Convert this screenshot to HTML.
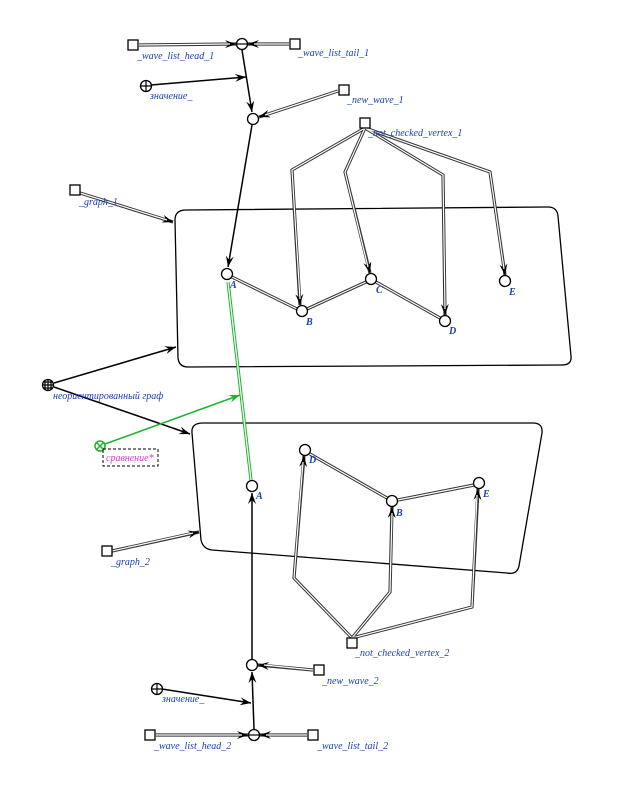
<!DOCTYPE html>
<html><head><meta charset="utf-8"><style>
html,body{margin:0;padding:0;background:#fff}
svg text{font-family:"Liberation Serif",serif;font-style:italic;font-size:10px;fill:#1a3fb0}
</style></head><body>
<svg width="619" height="784" viewBox="0 0 619 784" xmlns="http://www.w3.org/2000/svg">
<defs>
<marker id="a" markerWidth="12" markerHeight="8" refX="11" refY="4" orient="auto" markerUnits="userSpaceOnUse"><path d="M0,0 L11,4 L0,8 L4,4 z" fill="#000"/></marker>
<marker id="g" markerWidth="12" markerHeight="8" refX="11" refY="4" orient="auto" markerUnits="userSpaceOnUse"><path d="M0,0 L11,4 L0,8 L4,4 z" fill="#1db32a"/></marker>
</defs>
<g fill="none">
<path d="M186,210 L548,207 Q557,207 558,216 L571,356 Q572,365 562,365 L188,367 Q179,367 178,358 L175,220 Q175,210 186,210 Z" stroke="#000" stroke-width="1.3"/>
<path d="M203,423 L533,423 Q543,423 542,433 L519,566 Q517,575 507,573 L212,550 Q203,549 201,540 L192,433 Q191,423 203,423 Z" stroke="#000" stroke-width="1.3"/>
<g stroke="#333" stroke-width="3.2">
<path d="M232,277 L297,309"/><path d="M307,309 L366,282"/><path d="M376,282 L440,318"/>
<path d="M310,454 L387,498"/><path d="M398,500 L474,485"/>
</g>
<g stroke="#333" stroke-width="3.2" marker-end="url(#a)">
<path d="M139,45 L236,44"/><path d="M289,44 L248,44"/><path d="M338,91 L259,117"/>
<path d="M80,193 L173,222"/>
<path d="M365,128 L292,170 L300,305"/><path d="M365,128 L345,172 L370,273"/><path d="M365,128 L443,175 L445,315"/><path d="M365,128 L490,172 L505,275"/>
<path d="M352,638 L294,578 L304,456"/><path d="M352,638 L390,592 L392,507"/><path d="M352,638 L472,607 L478,489"/>
<path d="M112,551 L199,532"/>
<path d="M313,670 L258,665"/>
<path d="M156,735 L248,735"/><path d="M307,735 L260,735"/>
</g>
<g stroke="#fff" stroke-width="1.2">
<path d="M139,45 L230,44"/><path d="M289,44 L254,44"/><path d="M338,91 L265,115"/>
<path d="M80,193 L167,220"/>
<path d="M365,128 L292,170 L300,299"/><path d="M365,128 L345,172 L368,267"/><path d="M365,128 L443,175 L445,309"/><path d="M365,128 L490,172 L504,269"/>
<path d="M232,277 L297,309"/><path d="M307,309 L366,282"/><path d="M376,282 L440,318"/>
<path d="M310,454 L387,498"/><path d="M398,500 L474,485"/>
<path d="M352,638 L294,578 L303,462"/><path d="M352,638 L390,592 L392,513"/><path d="M352,638 L472,607 L477,495"/>
<path d="M112,551 L193,533"/>
<path d="M313,670 L264,665"/>
<path d="M156,735 L242,735"/><path d="M307,735 L266,735"/>
</g>
<path d="M251,480 L228,282" stroke="#1db32a" stroke-width="3.2"/>
<path d="M251,480 L228,282" stroke="#fff" stroke-width="1.2"/>
<g stroke="#000" stroke-width="1.5">
<path d="M242,50 L252,112" marker-end="url(#a)"/>
<path d="M151,85 L246,77" marker-end="url(#a)"/>
<path d="M252,125 L228,267" marker-end="url(#a)"/>
<path d="M54,383 L176,347" marker-end="url(#a)"/>
<path d="M54,387 L190,434" marker-end="url(#a)"/>
<path d="M252,659 L252,493" marker-end="url(#a)"/>
<path d="M162,689 L251,703" marker-end="url(#a)"/>
<path d="M254,729 L252,672" marker-end="url(#a)"/>
</g>
<path d="M105,444 L240,395" stroke="#1db32a" stroke-width="1.5" marker-end="url(#g)"/>
<g stroke="#000" stroke-width="1.3" fill="#fff">
<rect x="128" y="40" width="10" height="10"/><rect x="290" y="39" width="10" height="10"/>
<rect x="339" y="85" width="10" height="10"/><rect x="360" y="118" width="10" height="10"/>
<rect x="70" y="185" width="10" height="10"/><rect x="102" y="546" width="10" height="10"/>
<rect x="347" y="638" width="10" height="10"/><rect x="314" y="665" width="10" height="10"/>
<rect x="145" y="730" width="10" height="10"/><rect x="308" y="730" width="10" height="10"/>
<circle cx="242" cy="44" r="5.5"/><circle cx="254" cy="735" r="5.5"/>
<circle cx="146" cy="86" r="5.5"/><circle cx="157" cy="689" r="5.5"/>
<circle cx="48" cy="385" r="5.5"/>
<circle cx="253" cy="119" r="5.5"/><circle cx="252" cy="665" r="5.5"/>
<circle cx="227" cy="274" r="5.5"/><circle cx="302" cy="311" r="5.5"/><circle cx="371" cy="279" r="5.5"/><circle cx="445" cy="321" r="5.5"/><circle cx="505" cy="281" r="5.5"/>
<circle cx="252" cy="486" r="5.5"/><circle cx="305" cy="450" r="5.5"/><circle cx="392" cy="501" r="5.5"/><circle cx="479" cy="483" r="5.5"/>
</g>
<g stroke="#000" stroke-width="1.2">
<path d="M237,44 H247"/><path d="M249,735 H259"/>
<path d="M141,86 H151 M146,81 V91"/><path d="M152,689 H162 M157,684 V694"/>
<path d="M43,385 H53 M48,380 V390 M44,382 H52 M44,388 H52 M45,381 V389 M51,381 V389"/>
</g>
<circle cx="100" cy="446" r="5" stroke="#1db32a" stroke-width="1.5" fill="#fff"/>
<path d="M96.5,442.5 L103.5,449.5 M103.5,442.5 L96.5,449.5" stroke="#1db32a" stroke-width="1.5"/>
<rect x="103" y="449" width="55" height="17" stroke="#000" stroke-dasharray="3,2" fill="none"/>
</g>
<text x="137" y="59">_wave_list_head_1</text>
<text x="298" y="56">_wave_list_tail_1</text>
<text x="150" y="99">значение_</text>
<text x="347" y="103">_new_wave_1</text>
<text x="368" y="136">_not_checked_vertex_1</text>
<text x="79" y="205">_graph_1</text>
<text x="230" y="288" font-weight="bold">A</text><text x="306" y="325" font-weight="bold">B</text><text x="376" y="293" font-weight="bold">C</text><text x="449" y="334" font-weight="bold">D</text><text x="509" y="295" font-weight="bold">E</text>
<text x="53" y="399">неориентированный граф</text>
<text x="106" y="461" style="fill:#d040d0">сравнение*</text>
<text x="256" y="499" font-weight="bold">A</text><text x="309" y="463" font-weight="bold">D</text><text x="396" y="516" font-weight="bold">B</text><text x="483" y="497" font-weight="bold">E</text>
<text x="111" y="565">_graph_2</text>
<text x="355" y="656">_not_checked_vertex_2</text>
<text x="322" y="684">_new_wave_2</text>
<text x="162" y="702">значение_</text>
<text x="154" y="749">_wave_list_head_2</text>
<text x="317" y="749">_wave_list_tail_2</text>
</svg>
</body></html>
